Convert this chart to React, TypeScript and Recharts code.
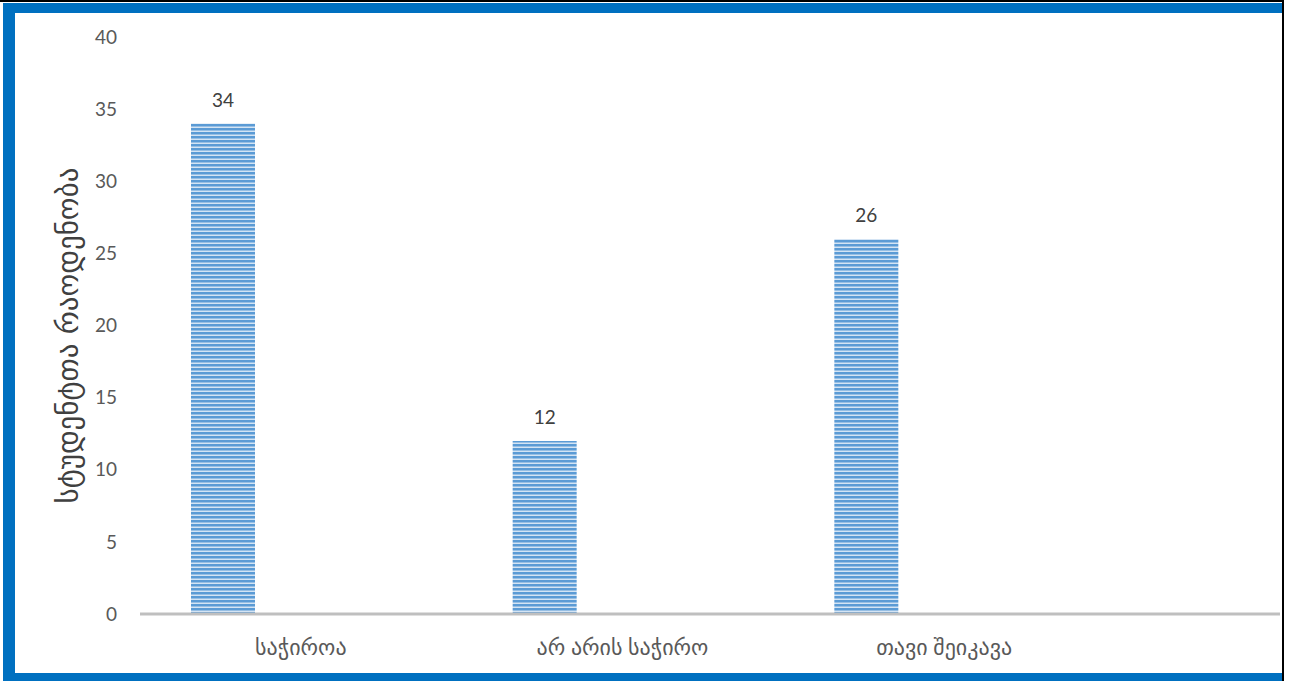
import { BarChart, Bar, XAxis, YAxis, LabelList } from 'recharts'

const categories = ['საჭიროა', 'არ არის საჭირო', 'თავი შეიკავა']
const students = [34, 12, 26]
const yTicks = [0, 5, 10, 15, 20, 25, 30, 35, 40]

const data = categories.map((name, i) => ({ name, students: students[i], empty: null }))

const FONT = "Lato, 'DejaVu Sans', sans-serif"

function YLabel({ viewBox }: any) {
  const cx = 68
  const cy = viewBox.y + viewBox.height / 2 + 10
  return (
    <text
      x={cx}
      y={cy}
      transform={`rotate(-90 ${cx} ${cy})`}
      textAnchor="middle"
      dominantBaseline="central"
      fill="#404040"
      fontSize={29}
      fontFamily="'DejaVu Sans', sans-serif"
    >
      სტუდენტთა რაოდენობა
    </text>
  )
}

export default function App() {
  return (
    <div style={{ position: 'relative', width: 1293, height: 681, background: '#fff', overflow: 'hidden' }}>
      <style>{`body{margin:0}`}</style>
      <div
        style={{
          position: 'absolute', left: 0, top: 0, width: 1284, height: 681,
          borderTop: '2px solid #000', borderRight: '2px solid #000', boxSizing: 'border-box',
        }}
      />
      <div
        style={{
          position: 'absolute', left: 3, top: 3, width: 1279, height: 678,
          borderLeft: '12px solid #0070C0', borderTop: '10px solid #0070C0',
          borderBottom: '8px solid #0070C0', boxSizing: 'border-box',
        }}
      />
      <div style={{ position: 'absolute', left: 0, top: 0 }}>
        <BarChart
          width={1293}
          height={681}
          data={data}
          margin={{ top: 37, right: 13, bottom: 37, left: 0 }}
          barGap={92}
        >
          <defs>
            <pattern id="stripes" patternUnits="userSpaceOnUse" width={8} height={4}>
              <rect x={0} y={0} width={8} height={4} fill="#D4E4F4" />
              <rect x={0} y={0} width={8} height={2.5} fill="#5B9BD5" />
            </pattern>
          </defs>
          <XAxis
            dataKey="name"
            height={30}
            padding={{ left: 0, right: 175 }}
            axisLine={{ stroke: '#BFBFBF', strokeWidth: 3 }}
            tickLine={false}
            tick={{ fill: '#595959', fontSize: 22, fontFamily: FONT }}
            tickMargin={19}
          />
          <YAxis
            domain={[0, 40]}
            ticks={yTicks}
            width={140}
            axisLine={false}
            tickLine={false}
            tickSize={0}
            tickMargin={23}
            tick={{ fill: '#595959', fontSize: 19, fontFamily: FONT }}
            label={<YLabel />}
          />
          <Bar dataKey="students" fill="url(#stripes)" barSize={64} isAnimationActive={false}>
            <LabelList
              dataKey="students"
              position="top"
              offset={17}
              fill="#404040"
              fontSize={19}
              fontFamily={FONT}
            />
          </Bar>
          <Bar dataKey="empty" fill="url(#stripes)" barSize={64} isAnimationActive={false} />
        </BarChart>
      </div>
    </div>
  )
}
